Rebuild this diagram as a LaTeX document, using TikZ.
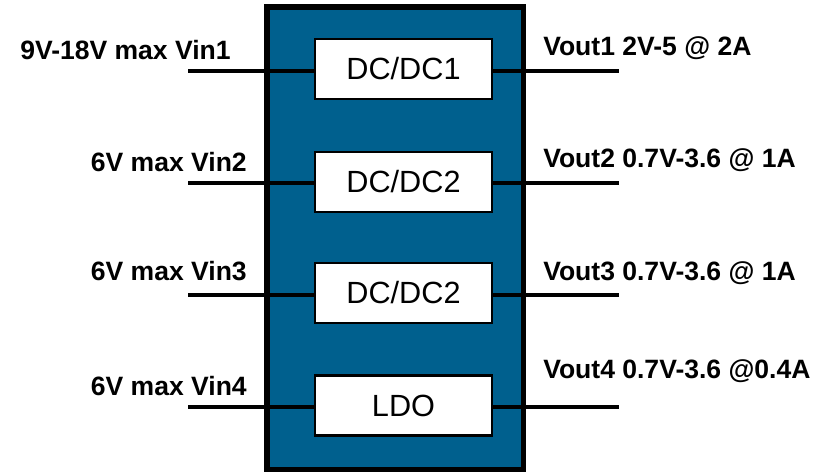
\documentclass[tikz,border=0pt]{standalone}
\usepackage{fontspec}
\setmainfont{Liberation Sans}
\usepackage{xcolor}
\usetikzlibrary{positioning}
\definecolor{chipblue}{RGB}{0,96,142}

\begin{document}
\begin{tikzpicture}[x=0.75pt,y=-0.75pt,
  blk/.style={draw,fill=white,line width=2.2pt,minimum width=177*0.75pt,minimum height=60*0.75pt,inner sep=0pt,font=\fontsize{23}{27}\selectfont},
  pin/.style={line width=2.4pt},
  lbl/.style={inner sep=0pt,font=\fontsize{19.9}{23}\selectfont\bfseries}]
\useasboundingbox (0,0) rectangle (828,472);
\draw[fill=chipblue,line width=4pt](267,7)rectangle(523.5,469.5);
\node[blk](b1)at(403.5,69){DC/DC1};
\node[blk](b2)at(403.5,182){DC/DC2};
\node[blk](b3)at(403.5,293){DC/DC2};
\node[blk](b4)at(403.5,405.5){LDO};
\coordinate(i1)at(188,71);
\coordinate(i2)at(188,183);
\coordinate(i3)at(188,295);
\coordinate(i4)at(188,407);
\coordinate(o1)at(619,71);
\coordinate(o2)at(619,183);
\coordinate(o3)at(619,295);
\coordinate(o4)at(619,407);
\draw[pin](i1)--(b1.west|-i1) (b1.east|-o1)--(o1)
(i2)--(b2.west|-i2) (b2.east|-o2)--(o2)
(i3)--(b3.west|-i3) (b3.east|-o3)--(o3)
(i4)--(b4.west|-i4) (b4.east|-o4)--(o4);
% input labels
\node[lbl,anchor=base west](vin1)at(20,59){9V-18V max Vin1};
\node[lbl,anchor=base east](vin2)at(247,171){6V max Vin2};
\node[lbl,anchor=base east](vin3)at(247,280){6V max Vin3};
\node[lbl,anchor=base east](vin4)at(247,395){6V max Vin4};
% output labels
\node[lbl,anchor=base west](vout1)at(543,55){Vout1 2V-5 @ 2A};
\node[lbl,anchor=base west](vout2)at(543,167){Vout2 0.7V-3.6 @ 1A};
\node[lbl,anchor=base west](vout3)at(543,280){Vout3 0.7V-3.6 @ 1A};
\node[lbl,anchor=base west](vout4)at(543,378){Vout4 0.7V-3.6 @0.4A};
\end{tikzpicture}
\end{document}
